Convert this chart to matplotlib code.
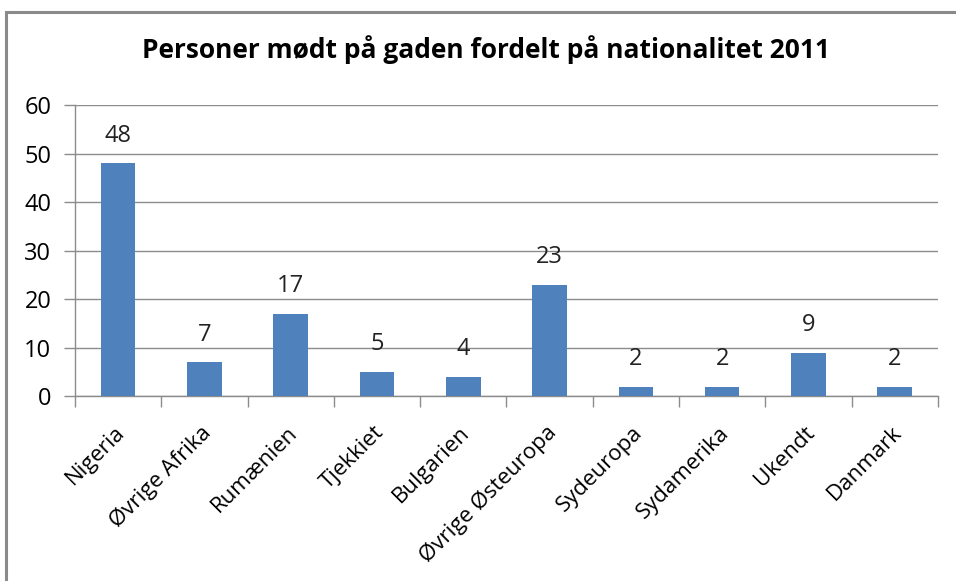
#!/usr/bin/env python3
"""bar chart: personer moedt paa gaden fordelt paa nationalitet 2011"""

import numpy as np
import matplotlib

matplotlib.use("Agg")
import matplotlib.pyplot as plt
import matplotlib.transforms as mtransforms
from matplotlib.patches import Rectangle

#
# DATA
#
categories = [
    "Nigeria",
    "Øvrige Afrika",
    "Rumænien",
    "Tjekkiet",
    "Bulgarien",
    "Øvrige Østeuropa",
    "Sydeuropa",
    "Sydamerika",
    "Ukendt",
    "Danmark",
]
values = [48, 7, 17, 5, 4, 23, 2, 2, 9, 2]
y_ticks = [0, 10, 20, 30, 40, 50, 60]
title = "Personer mødt på gaden fordelt på nationalitet 2011"

plt.rcParams["font.family"] = ["Open Sans", "DejaVu Sans"]

fig = plt.figure(figsize=(9.56, 5.81), dpi=100)
ax = fig.add_axes([0.0785, 0.318, 0.9025, 0.501])

x = np.arange(len(categories))
bars = ax.bar(x, values, width=0.4, color="#4F81BD", zorder=3)

for xi, v in zip(x, values):
    ax.text(xi, v + 5.7, str(v), ha="center", va="center", fontsize=17, color="#222222")

ax.set_xlim(-0.5, len(categories) - 0.5)
ax.set_ylim(0, 60)
ax.set_yticks(y_ticks)
ax.yaxis.grid(True, color="#8c8c8c", linewidth=1, zorder=0)

ax.set_xticks(x)
ax.set_xticklabels(categories, rotation=45, ha="right", va="center", rotation_mode="anchor", fontsize=16)
ax.set_xticks(np.arange(-0.5, len(categories)), minor=True)
ax.tick_params(axis="x", which="major", length=0, pad=24)
ax.tick_params(axis="x", which="minor", length=8, color="#8c8c8c", width=1)
ax.tick_params(axis="y", length=8, color="#8c8c8c", width=1, labelsize=17, pad=9)

# nudge category labels a bit right of the tick centre
shift = mtransforms.ScaledTranslation(0.035, 0, fig.dpi_scale_trans)
for lbl in ax.get_xticklabels():
    lbl.set_transform(lbl.get_transform() + shift)

for side in ["top", "right"]:
    ax.spines[side].set_visible(False)
for side in ["left", "bottom"]:
    ax.spines[side].set_color("#8c8c8c")
    ax.spines[side].set_linewidth(1)

fig.text(0.508, 0.915, title, ha="center", va="center", fontsize=19, fontweight="bold")

# outer chart border (left and top visible)
fig.patches.append(
    Rectangle(
        (6 / 956, -0.05), 1.1, 1 - 12 / 581 + 0.05,
        transform=fig.transFigure, fill=False, edgecolor="#8a8a8a", linewidth=2.2,
    )
)

fig.savefig("out.png", dpi=100)
